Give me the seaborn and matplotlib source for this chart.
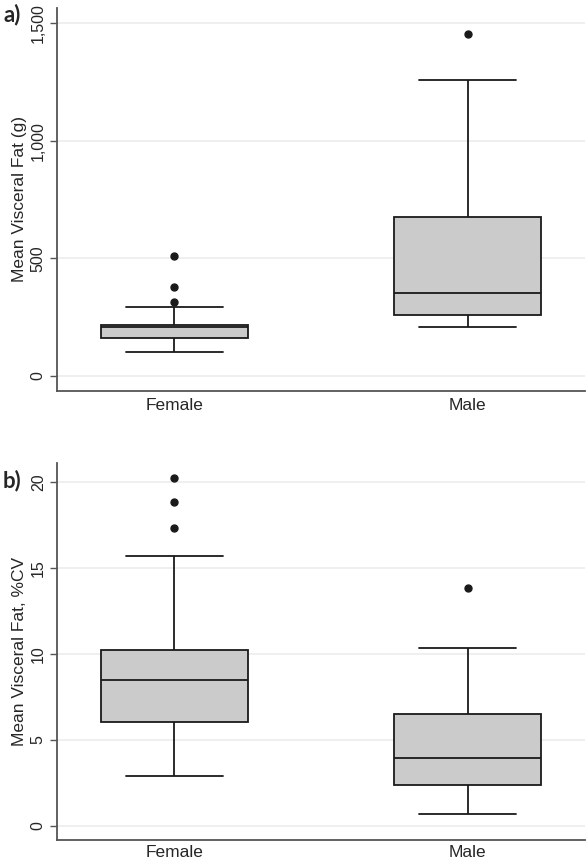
import matplotlib
matplotlib.use("Agg")
import matplotlib.pyplot as plt
import matplotlib.ticker as mticker
import numpy as np
import pandas as pd
import seaborn as sns

# =========================
# Data
# =========================
groups = ["Female", "Male"]

# a) mean visceral fat (g)
fat_female = [102, 125, 140, 152, 161, 175, 190, 200, 207, 209, 211, 214, 217, 291, 316, 378, 510]
fat_male = [208, 230, 259, 300, 352, 480, 675, 1257, 1453]

# b) mean visceral fat, %CV
cv_female = [2.9, 4.2, 5.0, 5.6, 6.03, 6.8, 7.4, 8.0, 8.51, 8.9, 9.3, 9.8, 10.21, 15.72, 17.34, 18.83, 20.25]
cv_male = [0.68, 1.5, 2.38, 3.2, 3.94, 5.0, 6.5, 10.37, 13.85]

fat_ticks = [0, 500, 1000, 1500]
cv_ticks = [0, 5, 10, 15, 20]

df_fat = pd.DataFrame({
    "sex": ["Female"] * len(fat_female) + ["Male"] * len(fat_male),
    "value": fat_female + fat_male,
})
df_cv = pd.DataFrame({
    "sex": ["Female"] * len(cv_female) + ["Male"] * len(cv_male),
    "value": cv_female + cv_male,
})

# ========================
# PLOT
# ========================
sns.set_theme(style="white")
plt.rcParams["font.family"] = ["Liberation Sans", "DejaVu Sans"]

fig = plt.figure(figsize=(5.88, 8.65), dpi=100)
ax_a = fig.add_axes([0.0969, 0.548, 0.898, 0.4428])
ax_b = fig.add_axes([0.0969, 0.0285, 0.898, 0.4366])

box_kws = dict(
    x="sex", y="value", order=groups, color="#cbcbcb", saturation=1,
    width=0.5, linecolor="#1a1a1a", linewidth=1.3, fliersize=5,
    flierprops=dict(marker="o", markerfacecolor="#1a1a1a", markeredgecolor="#1a1a1a"),
    capwidths=0.33,
)


def style_axis(ax, ticks, ylim, ylabel, fmt, xpad):
    ax.set_xlim(-0.4, 1.4)
    ax.set_ylim(*ylim)
    ax.set_yticks(ticks)
    ax.yaxis.set_major_formatter(mticker.FuncFormatter(fmt))
    ax.grid(axis="y", color="#ececec", linewidth=1.2)
    ax.set_axisbelow(True)
    for s in ["top", "right"]:
        ax.spines[s].set_visible(False)
    for s in ["left", "bottom"]:
        ax.spines[s].set_color("#555555")
        ax.spines[s].set_linewidth(1.3)
    ax.tick_params(axis="y", left=True, length=5, width=1, color="#555555",
                   labelsize=11.5, pad=3)
    ax.tick_params(axis="x", bottom=False, length=0, labelsize=12.5, pad=xpad)
    for lab in ax.get_yticklabels():
        lab.set_rotation(90)
        lab.set_va("center")
    ax.set_xlabel("")
    ax.set_ylabel(ylabel, fontsize=12.5, labelpad=3)


sns.boxplot(data=df_fat, ax=ax_a, **box_kws)
style_axis(ax_a, fat_ticks, (-64, 1564), "Mean Visceral Fat (g)",
           lambda v, p: f"{v:,.0f}", 5)

sns.boxplot(data=df_cv, ax=ax_b, **box_kws)
style_axis(ax_b, cv_ticks, (-0.84, 21.12), "Mean Visceral Fat, %CV",
           lambda v, p: f"{v:.0f}", 3.5)

fig.text(0.006, 0.983, "a)", fontsize=16, fontweight="bold", family="Lato", va="center")
fig.text(0.004, 0.444, "b)", fontsize=16, fontweight="bold", family="Lato", va="center")

plt.savefig("out.png", dpi=100)
